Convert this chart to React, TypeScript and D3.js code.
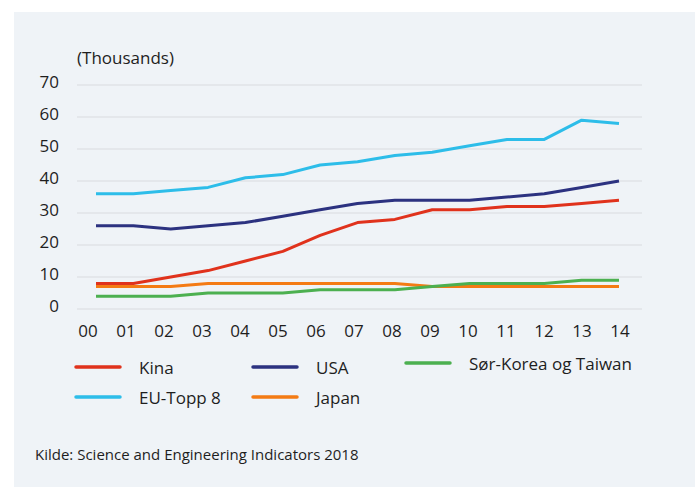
import React from "react";
import * as d3 from "d3";

const width = 697;
const height = 487;

const years = ["00", "01", "02", "03", "04", "05", "06", "07", "08", "09", "10", "11", "12", "13", "14"];
const yTicks = [0, 10, 20, 30, 40, 50, 60, 70];

const kina = [8, 8, 10, 12, 15, 18, 23, 27, 28, 31, 31, 32, 32, 33, 34];
const usa = [26, 26, 25, 26, 27, 29, 31, 33, 34, 34, 34, 35, 36, 38, 40];
const korea = [4, 4, 4, 5, 5, 5, 6, 6, 6, 7, 8, 8, 8, 9, 9];
const eu = [36, 36, 37, 38, 41, 42, 45, 46, 48, 49, 51, 53, 53, 59, 58];
const japan = [7, 7, 7, 8, 8, 8, 8, 8, 8, 7, 7, 7, 7, 7, 7];

const series = [
  { name: "EU-Topp 8", values: eu, color: "#2dbde9" },
  { name: "USA", values: usa, color: "#2c3280" },
  { name: "Japan", values: japan, color: "#f47b14" },
  { name: "Kina", values: kina, color: "#e0321c" },
  { name: "Sør-Korea og Taiwan", values: korea, color: "#4cb050" },
];

// legend order as in the picture: row by row
const legendOrder = ["Kina", "USA", "Sør-Korea og Taiwan", "EU-Topp 8", "Japan"];

const font = "'Open Sans', sans-serif";
const textColor = "#1e1e1e";

const App = () => {
  // data points sit a bit to the right of the tick labels in the original
  const x = d3.scalePoint<string>().domain(years).range([96, 619]);
  const xLabel = d3.scalePoint<string>().domain(years).range([88, 620]);
  const y = d3.scaleLinear().domain([0, 70]).range([309, 85]);

  const line = d3
    .line<number>()
    .x((_, i) => x(years[i]) as number)
    .y((d) => y(d));

  const legendCols = [76, 253, 406];
  const legendRows = [367, 397];

  return (
    <svg width={width} height={height} style={{ position: "absolute", left: 0, top: 0 }}>
      <rect x={0} y={0} width={width} height={height} fill="#ffffff" />
      <rect x={14} y={12} width={681} height={475} fill="#eff3f7" />

      <text x={77} y={64} fontFamily={font} fontSize={17} fill={textColor}>
        (Thousands)
      </text>

      {yTicks.map((t) => (
        <g key={t}>
          <line x1={77} x2={642} y1={y(t)} y2={y(t)} stroke="#d9dcdf" strokeWidth={1.2} />
          <text
            x={59}
            y={y(t) + 2.5}
            textAnchor="end"
            fontFamily={font}
            fontSize={17}
            fill={textColor}
          >
            {t}
          </text>
        </g>
      ))}

      {years.map((yr) => (
        <text
          key={yr}
          x={xLabel(yr)}
          y={337}
          textAnchor="middle"
          fontFamily={font}
          fontSize={17}
          fill={textColor}
        >
          {yr}
        </text>
      ))}

      {series.map((s) => (
        <path
          key={s.name}
          d={line(s.values) || ""}
          fill="none"
          stroke={s.color}
          strokeWidth={3}
          strokeLinejoin="round"
        />
      ))}

      {legendOrder.map((name, i) => {
        const s = series.find((d) => d.name === name)!;
        const lx = legendCols[i % 3];
        // the third column sits a little higher in the original
        const ly = legendRows[Math.floor(i / 3)] - (i === 2 ? 4 : 0);
        return (
          <g key={name}>
            <line
              x1={lx}
              x2={lx + 44}
              y1={ly}
              y2={ly}
              stroke={s.color}
              strokeWidth={3.5}
              strokeLinecap="round"
            />
            <text
              x={lx + 63}
              y={ly + 6.5}
              fontFamily={font}
              fontSize={17}
              fill={textColor}
            >
              {name}
            </text>
          </g>
        );
      })}

      <text x={35} y={460} fontFamily={font} fontSize={15} fill={textColor}>
        Kilde: Science and Engineering Indicators 2018
      </text>
    </svg>
  );
};

export default App;
